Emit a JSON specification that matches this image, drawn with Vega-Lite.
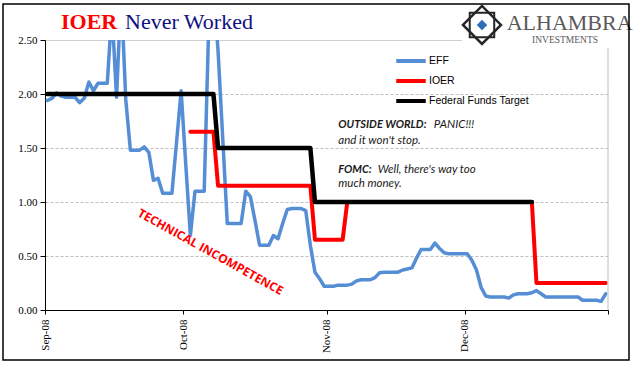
{
  "$schema": "https://vega.github.io/schema/vega-lite/v6.json",
  "width": 563,
  "height": 270,
  "autosize": {"type": "none"},
  "padding": {"left": 45, "top": 40, "right": 33, "bottom": 65},
  "background": "white",
  "config": {
    "view": {"stroke": null},
    "axis": {"labelFont": "Liberation Serif", "labelFontSize": 11, "labelColor": "black", "domainColor": "black", "tickColor": "black", "title": null}
  },
  "datasets": {
    "rates": [
      {"date": "2008-09-01T12:00", "series": "EFF", "value": 1.94},
      {"date": "2008-09-02T12:00", "series": "EFF", "value": 1.96},
      {"date": "2008-09-03T12:00", "series": "EFF", "value": 2.01},
      {"date": "2008-09-04T12:00", "series": "EFF", "value": 1.98},
      {"date": "2008-09-05T12:00", "series": "EFF", "value": 1.97},
      {"date": "2008-09-06T12:00", "series": "EFF", "value": 1.97},
      {"date": "2008-09-07T12:00", "series": "EFF", "value": 1.97},
      {"date": "2008-09-08T12:00", "series": "EFF", "value": 1.92},
      {"date": "2008-09-09T12:00", "series": "EFF", "value": 1.96},
      {"date": "2008-09-10T12:00", "series": "EFF", "value": 2.11},
      {"date": "2008-09-11T12:00", "series": "EFF", "value": 2.03},
      {"date": "2008-09-12T12:00", "series": "EFF", "value": 2.10},
      {"date": "2008-09-13T12:00", "series": "EFF", "value": 2.10},
      {"date": "2008-09-14T12:00", "series": "EFF", "value": 2.10},
      {"date": "2008-09-15T12:00", "series": "EFF", "value": 2.78},
      {"date": "2008-09-16T12:00", "series": "EFF", "value": 1.97},
      {"date": "2008-09-17T12:00", "series": "EFF", "value": 2.95},
      {"date": "2008-09-18T12:00", "series": "EFF", "value": 1.95},
      {"date": "2008-09-19T12:00", "series": "EFF", "value": 1.48},
      {"date": "2008-09-20T12:00", "series": "EFF", "value": 1.48},
      {"date": "2008-09-21T12:00", "series": "EFF", "value": 1.48},
      {"date": "2008-09-22T12:00", "series": "EFF", "value": 1.51},
      {"date": "2008-09-23T12:00", "series": "EFF", "value": 1.46},
      {"date": "2008-09-24T12:00", "series": "EFF", "value": 1.20},
      {"date": "2008-09-25T12:00", "series": "EFF", "value": 1.22},
      {"date": "2008-09-26T12:00", "series": "EFF", "value": 1.08},
      {"date": "2008-09-27T12:00", "series": "EFF", "value": 1.08},
      {"date": "2008-09-28T12:00", "series": "EFF", "value": 1.08},
      {"date": "2008-09-29T12:00", "series": "EFF", "value": 1.55},
      {"date": "2008-09-30T12:00", "series": "EFF", "value": 2.03},
      {"date": "2008-10-01T12:00", "series": "EFF", "value": 1.35},
      {"date": "2008-10-02T12:00", "series": "EFF", "value": 0.69},
      {"date": "2008-10-03T12:00", "series": "EFF", "value": 1.10},
      {"date": "2008-10-04T12:00", "series": "EFF", "value": 1.10},
      {"date": "2008-10-05T12:00", "series": "EFF", "value": 1.10},
      {"date": "2008-10-06T12:00", "series": "EFF", "value": 2.67},
      {"date": "2008-10-07T12:00", "series": "EFF", "value": 3.00},
      {"date": "2008-10-08T12:00", "series": "EFF", "value": 2.40},
      {"date": "2008-10-09T12:00", "series": "EFF", "value": 1.60},
      {"date": "2008-10-10T12:00", "series": "EFF", "value": 0.80},
      {"date": "2008-10-11T12:00", "series": "EFF", "value": 0.80},
      {"date": "2008-10-12T12:00", "series": "EFF", "value": 0.80},
      {"date": "2008-10-13T12:00", "series": "EFF", "value": 0.80},
      {"date": "2008-10-14T12:00", "series": "EFF", "value": 1.10},
      {"date": "2008-10-15T12:00", "series": "EFF", "value": 1.05},
      {"date": "2008-10-16T12:00", "series": "EFF", "value": 0.83},
      {"date": "2008-10-17T12:00", "series": "EFF", "value": 0.60},
      {"date": "2008-10-18T12:00", "series": "EFF", "value": 0.60},
      {"date": "2008-10-19T12:00", "series": "EFF", "value": 0.60},
      {"date": "2008-10-20T12:00", "series": "EFF", "value": 0.69},
      {"date": "2008-10-21T12:00", "series": "EFF", "value": 0.66},
      {"date": "2008-10-22T12:00", "series": "EFF", "value": 0.80},
      {"date": "2008-10-23T12:00", "series": "EFF", "value": 0.93},
      {"date": "2008-10-24T12:00", "series": "EFF", "value": 0.94},
      {"date": "2008-10-25T12:00", "series": "EFF", "value": 0.94},
      {"date": "2008-10-26T12:00", "series": "EFF", "value": 0.94},
      {"date": "2008-10-27T12:00", "series": "EFF", "value": 0.92},
      {"date": "2008-10-28T12:00", "series": "EFF", "value": 0.60},
      {"date": "2008-10-29T12:00", "series": "EFF", "value": 0.35},
      {"date": "2008-10-30T12:00", "series": "EFF", "value": 0.29},
      {"date": "2008-10-31T12:00", "series": "EFF", "value": 0.22},
      {"date": "2008-11-01T12:00", "series": "EFF", "value": 0.22},
      {"date": "2008-11-02T12:00", "series": "EFF", "value": 0.22},
      {"date": "2008-11-03T12:00", "series": "EFF", "value": 0.23},
      {"date": "2008-11-04T12:00", "series": "EFF", "value": 0.23},
      {"date": "2008-11-05T12:00", "series": "EFF", "value": 0.23},
      {"date": "2008-11-06T12:00", "series": "EFF", "value": 0.24},
      {"date": "2008-11-07T12:00", "series": "EFF", "value": 0.27},
      {"date": "2008-11-08T12:00", "series": "EFF", "value": 0.28},
      {"date": "2008-11-09T12:00", "series": "EFF", "value": 0.28},
      {"date": "2008-11-10T12:00", "series": "EFF", "value": 0.28},
      {"date": "2008-11-11T12:00", "series": "EFF", "value": 0.30},
      {"date": "2008-11-12T12:00", "series": "EFF", "value": 0.345},
      {"date": "2008-11-13T12:00", "series": "EFF", "value": 0.35},
      {"date": "2008-11-14T12:00", "series": "EFF", "value": 0.35},
      {"date": "2008-11-15T12:00", "series": "EFF", "value": 0.35},
      {"date": "2008-11-16T12:00", "series": "EFF", "value": 0.35},
      {"date": "2008-11-17T12:00", "series": "EFF", "value": 0.37},
      {"date": "2008-11-18T12:00", "series": "EFF", "value": 0.38},
      {"date": "2008-11-19T12:00", "series": "EFF", "value": 0.39},
      {"date": "2008-11-20T12:00", "series": "EFF", "value": 0.48},
      {"date": "2008-11-21T12:00", "series": "EFF", "value": 0.56},
      {"date": "2008-11-22T12:00", "series": "EFF", "value": 0.56},
      {"date": "2008-11-23T12:00", "series": "EFF", "value": 0.56},
      {"date": "2008-11-24T12:00", "series": "EFF", "value": 0.62},
      {"date": "2008-11-25T12:00", "series": "EFF", "value": 0.57},
      {"date": "2008-11-26T12:00", "series": "EFF", "value": 0.53},
      {"date": "2008-11-27T12:00", "series": "EFF", "value": 0.52},
      {"date": "2008-11-28T12:00", "series": "EFF", "value": 0.52},
      {"date": "2008-11-29T12:00", "series": "EFF", "value": 0.52},
      {"date": "2008-11-30T12:00", "series": "EFF", "value": 0.52},
      {"date": "2008-12-01T12:00", "series": "EFF", "value": 0.52},
      {"date": "2008-12-02T12:00", "series": "EFF", "value": 0.46},
      {"date": "2008-12-03T12:00", "series": "EFF", "value": 0.37},
      {"date": "2008-12-04T12:00", "series": "EFF", "value": 0.21},
      {"date": "2008-12-05T12:00", "series": "EFF", "value": 0.13},
      {"date": "2008-12-06T12:00", "series": "EFF", "value": 0.12},
      {"date": "2008-12-07T12:00", "series": "EFF", "value": 0.12},
      {"date": "2008-12-08T12:00", "series": "EFF", "value": 0.12},
      {"date": "2008-12-09T12:00", "series": "EFF", "value": 0.12},
      {"date": "2008-12-10T12:00", "series": "EFF", "value": 0.11},
      {"date": "2008-12-11T12:00", "series": "EFF", "value": 0.14},
      {"date": "2008-12-12T12:00", "series": "EFF", "value": 0.15},
      {"date": "2008-12-13T12:00", "series": "EFF", "value": 0.15},
      {"date": "2008-12-14T12:00", "series": "EFF", "value": 0.15},
      {"date": "2008-12-15T12:00", "series": "EFF", "value": 0.16},
      {"date": "2008-12-16T12:00", "series": "EFF", "value": 0.18},
      {"date": "2008-12-17T12:00", "series": "EFF", "value": 0.15},
      {"date": "2008-12-18T12:00", "series": "EFF", "value": 0.12},
      {"date": "2008-12-19T12:00", "series": "EFF", "value": 0.12},
      {"date": "2008-12-20T12:00", "series": "EFF", "value": 0.12},
      {"date": "2008-12-21T12:00", "series": "EFF", "value": 0.12},
      {"date": "2008-12-22T12:00", "series": "EFF", "value": 0.12},
      {"date": "2008-12-23T12:00", "series": "EFF", "value": 0.12},
      {"date": "2008-12-24T12:00", "series": "EFF", "value": 0.12},
      {"date": "2008-12-25T12:00", "series": "EFF", "value": 0.12},
      {"date": "2008-12-26T12:00", "series": "EFF", "value": 0.09},
      {"date": "2008-12-27T12:00", "series": "EFF", "value": 0.09},
      {"date": "2008-12-28T12:00", "series": "EFF", "value": 0.09},
      {"date": "2008-12-29T12:00", "series": "EFF", "value": 0.09},
      {"date": "2008-12-30T12:00", "series": "EFF", "value": 0.08},
      {"date": "2008-12-31T12:00", "series": "EFF", "value": 0.15},
      {"date": "2008-10-02T12:00", "series": "IOER", "value": 1.65},
      {"date": "2008-10-07T12:00", "series": "IOER", "value": 1.65},
      {"date": "2008-10-08T12:00", "series": "IOER", "value": 1.15},
      {"date": "2008-10-28T12:00", "series": "IOER", "value": 1.15},
      {"date": "2008-10-29T12:00", "series": "IOER", "value": 0.65},
      {"date": "2008-11-04T12:00", "series": "IOER", "value": 0.65},
      {"date": "2008-11-05T12:00", "series": "IOER", "value": 1.00},
      {"date": "2008-12-15T12:00", "series": "IOER", "value": 1.00},
      {"date": "2008-12-16T12:00", "series": "IOER", "value": 0.25},
      {"date": "2008-12-31T12:00", "series": "IOER", "value": 0.25},
      {"date": "2008-09-01T12:00", "series": "Federal Funds Target", "value": 2.00},
      {"date": "2008-10-07T12:00", "series": "Federal Funds Target", "value": 2.00},
      {"date": "2008-10-08T12:00", "series": "Federal Funds Target", "value": 1.50},
      {"date": "2008-10-28T12:00", "series": "Federal Funds Target", "value": 1.50},
      {"date": "2008-10-29T12:00", "series": "Federal Funds Target", "value": 1.00},
      {"date": "2008-12-15T12:00", "series": "Federal Funds Target", "value": 1.00}
    ]
  },
  "layer": [
    {
      "data": {"name": "rates"},
      "transform": [{"filter": "datum.series == 'EFF'"}],
      "mark": {"type": "line", "strokeWidth": 3.5, "strokeJoin": "round", "strokeCap": "round", "clip": true},
      "encoding": {
        "x": {
          "field": "date", "type": "temporal",
          "scale": {"domain": [{"year": 2008, "month": 9, "date": 1}, {"year": 2009, "month": 1, "date": 1}]},
          "axis": {
            "values": [{"year": 2008, "month": 9, "date": 1}, {"year": 2008, "month": 10, "date": 1}, {"year": 2008, "month": 11, "date": 1}, {"year": 2008, "month": 12, "date": 1}, {"year": 2009, "month": 1, "date": 1}],
            "labelExpr": "month(datum.value) == 0 ? '' : timeFormat(datum.value, '%b-%y')",
            "labelAngle": -90, "tickSize": 4, "labelPadding": 5, "grid": false
          }
        },
        "y": {
          "field": "value", "type": "quantitative",
          "scale": {"domain": [0, 2.5], "nice": false},
          "axis": {
            "values": [0, 0.5, 1, 1.5, 2, 2.5], "format": ".2f", "tickSize": 5, "labelPadding": 3,
            "grid": true, "gridColor": "#bfbfbf",
            "gridDash": {"condition": {"test": "datum.value >= 2.49", "value": [1, 0]}, "value": [3, 2]}
          }
        },
        "color": {
          "field": "series", "type": "nominal",
          "scale": {"domain": ["EFF", "IOER", "Federal Funds Target"], "range": ["#558ED5", "#FF0000", "#000000"]},
          "legend": {"orient": "none", "legendX": 349, "legendY": 11, "title": null, "symbolType": "stroke", "symbolSize": 870, "symbolStrokeWidth": 4, "clipHeight": 20, "rowPadding": 0, "padding": 0, "labelFont": "Liberation Sans", "labelFontSize": 10.5, "labelColor": "black", "labelOffset": 1}
        }
      }
    },
    {
      "data": {"name": "rates"},
      "transform": [{"filter": "datum.series == 'IOER'"}],
      "mark": {"type": "line", "strokeWidth": 4, "strokeJoin": "round", "strokeCap": "round"},
      "encoding": {
        "x": {"field": "date", "type": "temporal"},
        "y": {"field": "value", "type": "quantitative"},
        "color": {"field": "series", "type": "nominal"}
      }
    },
    {
      "data": {"name": "rates"},
      "transform": [{"filter": "datum.series == 'Federal Funds Target'"}],
      "mark": {"type": "line", "strokeWidth": 4.5, "strokeJoin": "round", "strokeCap": "round"},
      "encoding": {
        "x": {"field": "date", "type": "temporal"},
        "y": {"field": "value", "type": "quantitative"},
        "color": {"field": "series", "type": "nominal"}
      }
    },
    {
      "data": {"values": [{}]},
      "mark": {"type": "rule", "color": "#bfbfbf", "strokeWidth": 1},
      "encoding": {
        "x": {"datum": {"year": 2009, "month": 1, "date": 1}, "type": "temporal"},
        "y": {"datum": 0, "type": "quantitative"},
        "y2": {"datum": 2.426}
      }
    },
    {
      "data": {"values": [{}]},
      "mark": {"type": "rect", "fill": "white", "clip": false},
      "encoding": {
        "x": {"datum": {"year": 2008, "month": 11, "date": 30, "hours": 8, "minutes": 40}, "type": "temporal"},
        "x2": {"datum": {"year": 2009, "month": 1, "date": 1, "hours": 20, "minutes": 50}},
        "y": {"datum": 2.824, "type": "quantitative"},
        "y2": {"datum": 2.426}
      }
    },
    {
      "data": {"values": [{}]},
      "mark": {"type": "point", "shape": "diamond", "size": 1444, "filled": true, "fill": "white", "stroke": "#262626", "strokeWidth": 2.5, "opacity": 1, "clip": false},
      "encoding": {
        "x": {"datum": {"year": 2008, "month": 12, "date": 4, "hours": 16, "minutes": 35}, "type": "temporal"},
        "y": {"datum": 2.639, "type": "quantitative"}
      }
    },
    {
      "data": {"values": [{}]},
      "mark": {"type": "point", "shape": "square", "size": 600, "filled": false, "stroke": "#262626", "strokeWidth": 2, "opacity": 1, "clip": false},
      "encoding": {
        "x": {"datum": {"year": 2008, "month": 12, "date": 4, "hours": 16, "minutes": 35}, "type": "temporal"},
        "y": {"datum": 2.639, "type": "quantitative"}
      }
    },
    {
      "data": {"values": [{}]},
      "mark": {"type": "point", "shape": "diamond", "size": 110, "filled": true, "fill": "#2E6DB4", "opacity": 1, "clip": false},
      "encoding": {
        "x": {"datum": {"year": 2008, "month": 12, "date": 4, "hours": 16, "minutes": 35}, "type": "temporal"},
        "y": {"datum": 2.639, "type": "quantitative"}
      }
    },
    {
      "data": {"values": [{}]},
      "mark": {"type": "text", "text": "ALHAMBRA", "font": "Liberation Serif", "fontSize": 22, "fill": "#595959", "align": "left", "baseline": "alphabetic", "clip": false},
      "encoding": {
        "x": {"datum": {"year": 2008, "month": 12, "date": 10, "hours": 1, "minutes": 10}, "type": "temporal"},
        "y": {"datum": 2.593, "type": "quantitative"}
      }
    },
    {
      "data": {"values": [{}]},
      "mark": {"type": "text", "text": "INVESTMENTS", "font": "Liberation Serif", "fontSize": 9.5, "fill": "#595959", "align": "center", "baseline": "alphabetic", "clip": false},
      "encoding": {
        "x": {"datum": {"year": 2008, "month": 12, "date": 22, "hours": 16, "minutes": 20}, "type": "temporal"},
        "y": {"datum": 2.469, "type": "quantitative"}
      }
    },
    {
      "data": {"values": [{}]},
      "mark": {"type": "text", "text": "IOER", "font": "Liberation Serif", "fontSize": 22, "fontWeight": "bold", "fill": "#FF0000", "align": "left", "baseline": "alphabetic", "clip": false},
      "encoding": {
        "x": {"datum": {"year": 2008, "month": 9, "date": 4, "hours": 11, "minutes": 12}, "type": "temporal"},
        "y": {"datum": 2.602, "type": "quantitative"}
      }
    },
    {
      "data": {"values": [{}]},
      "mark": {"type": "text", "text": "Never Worked", "font": "Liberation Serif", "fontSize": 22, "fill": "#10107F", "align": "left", "baseline": "alphabetic", "clip": false},
      "encoding": {
        "x": {"datum": {"year": 2008, "month": 9, "date": 18, "hours": 8, "minutes": 3}, "type": "temporal"},
        "y": {"datum": 2.602, "type": "quantitative"}
      }
    },
    {
      "data": {"values": [{}]},
      "mark": {"type": "rect", "fill": null, "fillOpacity": 0, "stroke": "black", "strokeWidth": 1.5, "clip": false},
      "encoding": {
        "x": {"datum": {"year": 2008, "month": 8, "date": 22, "hours": 21, "minutes": 36}, "type": "temporal"},
        "x2": {"datum": {"year": 2009, "month": 1, "date": 5, "hours": 13, "minutes": 12}},
        "y": {"datum": 2.8333, "type": "quantitative"},
        "y2": {"datum": -0.463}
      }
    },
    {
      "data": {"values": [{}]},
      "mark": {"type": "text", "text": "OUTSIDE WORLD:", "font": "Lato", "fontSize": 11, "fontStyle": "italic", "fontWeight": "bold", "fill": "#1a1a1a", "align": "left", "baseline": "alphabetic"},
      "encoding": {
        "x": {"datum": {"year": 2008, "month": 11, "date": 3, "hours": 13, "minutes": 26}, "type": "temporal"},
        "y": {"datum": 1.6806, "type": "quantitative"}
      }
    },
    {
      "data": {"values": [{}]},
      "mark": {"type": "text", "text": "PANIC!!!", "font": "Lato", "fontSize": 11.5, "fontStyle": "italic", "fill": "#1a1a1a", "align": "left", "baseline": "alphabetic"},
      "encoding": {
        "x": {"datum": {"year": 2008, "month": 11, "date": 24, "hours": 6, "minutes": 0}, "type": "temporal"},
        "y": {"datum": 1.6806, "type": "quantitative"}
      }
    },
    {
      "data": {"values": [{}]},
      "mark": {"type": "text", "text": "and it won't stop.", "font": "Lato", "fontSize": 11.5, "fontStyle": "italic", "fill": "#1a1a1a", "align": "left", "baseline": "alphabetic"},
      "encoding": {
        "x": {"datum": {"year": 2008, "month": 11, "date": 3, "hours": 13, "minutes": 26}, "type": "temporal"},
        "y": {"datum": 1.537, "type": "quantitative"}
      }
    },
    {
      "data": {"values": [{}]},
      "mark": {"type": "text", "text": "FOMC:", "font": "Lato", "fontSize": 11, "fontStyle": "italic", "fontWeight": "bold", "fill": "#1a1a1a", "align": "left", "baseline": "alphabetic"},
      "encoding": {
        "x": {"datum": {"year": 2008, "month": 11, "date": 3, "hours": 13, "minutes": 26}, "type": "temporal"},
        "y": {"datum": 1.271, "type": "quantitative"}
      }
    },
    {
      "data": {"values": [{}]},
      "mark": {"type": "text", "text": "Well, there's way too", "font": "Lato", "fontSize": 11.5, "fontStyle": "italic", "fill": "#1a1a1a", "align": "left", "baseline": "alphabetic"},
      "encoding": {
        "x": {"datum": {"year": 2008, "month": 11, "date": 12, "hours": 2, "minutes": 10}, "type": "temporal"},
        "y": {"datum": 1.271, "type": "quantitative"}
      }
    },
    {
      "data": {"values": [{}]},
      "mark": {"type": "text", "text": "much money.", "font": "Lato", "fontSize": 11.5, "fontStyle": "italic", "fill": "#1a1a1a", "align": "left", "baseline": "alphabetic"},
      "encoding": {
        "x": {"datum": {"year": 2008, "month": 11, "date": 3, "hours": 13, "minutes": 26}, "type": "temporal"},
        "y": {"datum": 1.136, "type": "quantitative"}
      }
    },
    {
      "data": {"values": [{}]},
      "mark": {"type": "text", "text": "TECHNICAL INCOMPETENCE", "font": "Open Sans", "fontSize": 12, "fontWeight": "bold", "fill": "#FF0000", "align": "center", "baseline": "middle", "angle": 29},
      "encoding": {
        "x": {"datum": {"year": 2008, "month": 10, "date": 6, "hours": 20, "minutes": 40}, "type": "temporal"},
        "y": {"datum": 0.537, "type": "quantitative"}
      }
    }
  ]
}
